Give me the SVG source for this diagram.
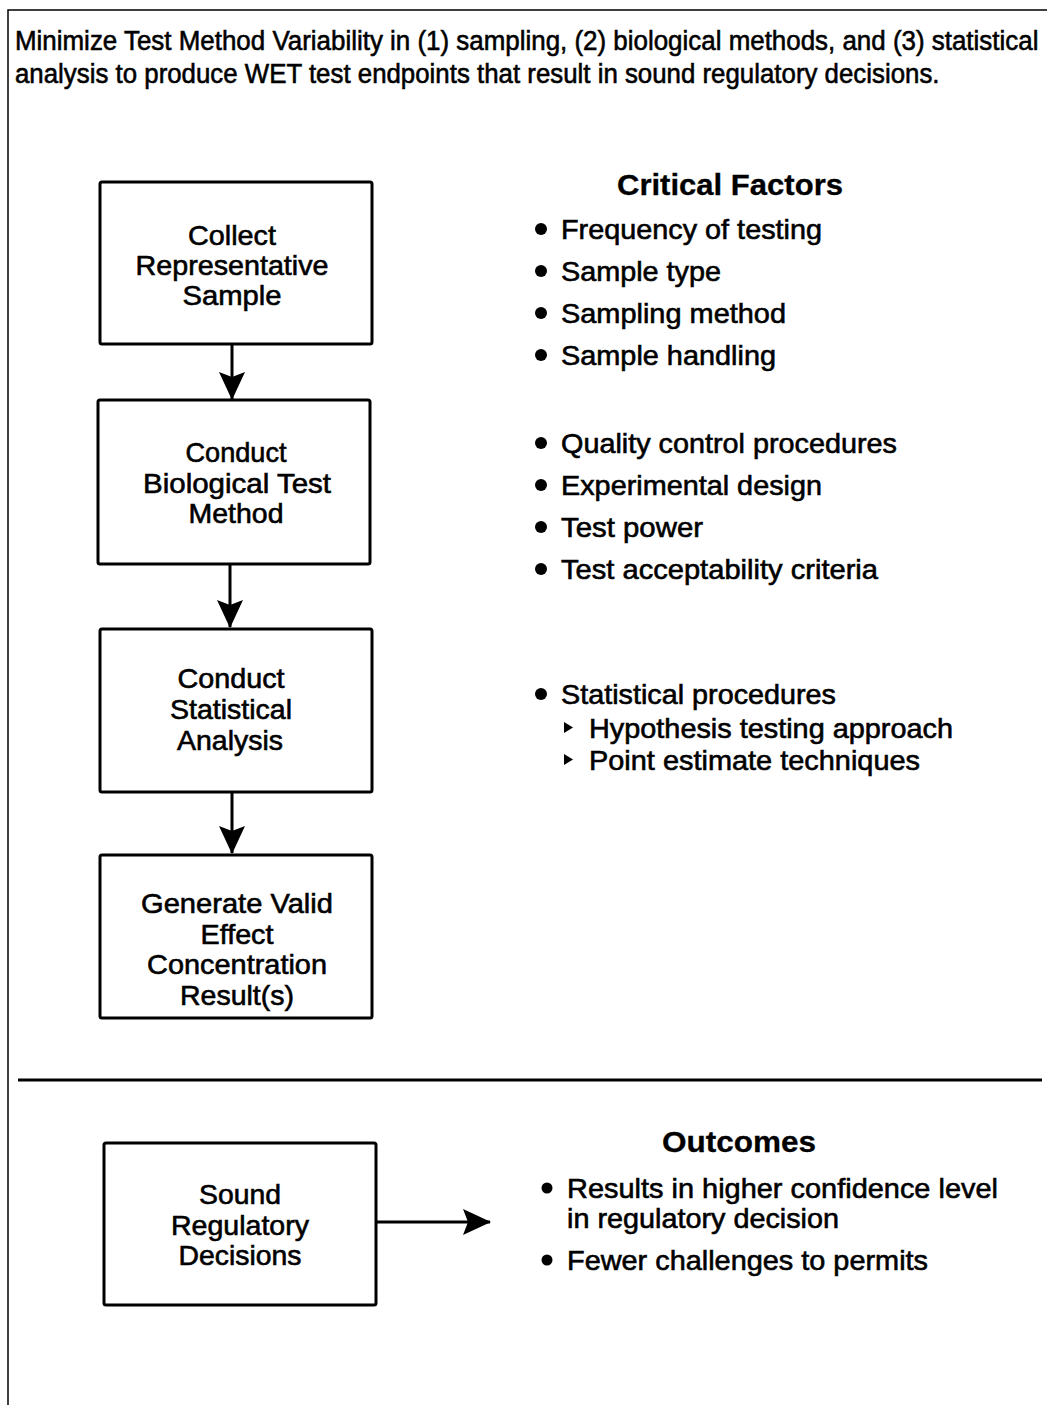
<svg xmlns="http://www.w3.org/2000/svg" width="1047" height="1405" viewBox="0 0 1047 1405">
<style>
text{font-family:"Liberation Sans",Arial,sans-serif;fill:#000;stroke:#000;stroke-width:0.6;}
.t{font-size:28px;}
.c{font-size:28px;text-anchor:middle;}
.h{font-size:29px;font-weight:bold;text-anchor:middle;stroke-width:0.3;}
.box{fill:#fff;stroke:#000;stroke-width:3;}
.ln{stroke:#000;stroke-width:3;fill:none;}
</style>
<defs>
<marker id="ah" viewBox="0 0 28 26" refX="27" refY="13" markerWidth="28" markerHeight="26" markerUnits="userSpaceOnUse" orient="auto">
<path d="M0,0 L28,13 L0,26 L5,13 z" fill="#000"/>
</marker>
</defs>
<rect width="1047" height="1405" fill="#fff"/>
<g id="frame">
<path d="M8,1405 V10 H1047" stroke="#000" stroke-width="1.5" fill="none"/>
<line x1="18" y1="1080" x2="1042" y2="1080" stroke="#000" stroke-width="3"/>
</g>
<g id="title" transform="translate(15,0) scale(0.86,1)">
<text class="t" x="0" y="50" textLength="1190" lengthAdjust="spacingAndGlyphs">Minimize Test Method Variability in (1) sampling, (2) biological methods, and (3) statistical</text>
<text class="t" x="0" y="83" textLength="1075" lengthAdjust="spacingAndGlyphs">analysis to produce WET test endpoints that result in sound regulatory decisions.</text>
</g>
<g id="connectors">
<line class="ln" x1="232" y1="344" x2="232" y2="399" marker-end="url(#ah)"/>
<line class="ln" x1="230" y1="564" x2="230" y2="627" marker-end="url(#ah)"/>
<line class="ln" x1="232" y1="792" x2="232" y2="853" marker-end="url(#ah)"/>
<line class="ln" x1="376" y1="1222" x2="490" y2="1222" marker-end="url(#ah)"/>
</g>
<g id="n1">
<rect class="box" x="100" y="182" width="272" height="162" rx="2"/>
<text class="c" x="232" y="245" textLength="88" lengthAdjust="spacingAndGlyphs">Collect</text>
<text class="c" x="232" y="275" textLength="193" lengthAdjust="spacingAndGlyphs">Representative</text>
<text class="c" x="232" y="305" textLength="99" lengthAdjust="spacingAndGlyphs">Sample</text>
</g>
<g id="n2">
<rect class="box" x="98" y="400" width="272" height="164" rx="2"/>
<text class="c" x="236" y="462" textLength="101" lengthAdjust="spacingAndGlyphs">Conduct</text>
<text class="c" x="237" y="493" textLength="188" lengthAdjust="spacingAndGlyphs">Biological Test</text>
<text class="c" x="236" y="523" textLength="95" lengthAdjust="spacingAndGlyphs">Method</text>
</g>
<g id="n3">
<rect class="box" x="100" y="629" width="272" height="163" rx="2"/>
<text class="c" x="231" y="688" textLength="107" lengthAdjust="spacingAndGlyphs">Conduct</text>
<text class="c" x="231" y="719" textLength="122" lengthAdjust="spacingAndGlyphs">Statistical</text>
<text class="c" x="230" y="750" textLength="106" lengthAdjust="spacingAndGlyphs">Analysis</text>
</g>
<g id="n4">
<rect class="box" x="100" y="855" width="272" height="163" rx="2"/>
<text class="c" x="237" y="913" textLength="192" lengthAdjust="spacingAndGlyphs">Generate Valid</text>
<text class="c" x="237" y="944" textLength="73" lengthAdjust="spacingAndGlyphs">Effect</text>
<text class="c" x="237" y="974" textLength="180" lengthAdjust="spacingAndGlyphs">Concentration</text>
<text class="c" x="237" y="1005" textLength="114" lengthAdjust="spacingAndGlyphs">Result(s)</text>
</g>
<g id="n5">
<rect class="box" x="104" y="1143" width="272" height="162" rx="2"/>
<text class="c" x="240" y="1204" textLength="82" lengthAdjust="spacingAndGlyphs">Sound</text>
<text class="c" x="240" y="1235" textLength="138" lengthAdjust="spacingAndGlyphs">Regulatory</text>
<text class="c" x="240" y="1265" textLength="123" lengthAdjust="spacingAndGlyphs">Decisions</text>
</g>
<g id="critical-factors">
<text class="h" x="730" y="195" textLength="226" lengthAdjust="spacingAndGlyphs">Critical Factors</text>
<circle cx="541" cy="229" r="6"/>
<text class="t" x="561" y="239" textLength="261" lengthAdjust="spacingAndGlyphs">Frequency of testing</text>
<circle cx="541" cy="271" r="6"/>
<text class="t" x="561" y="281" textLength="160" lengthAdjust="spacingAndGlyphs">Sample type</text>
<circle cx="541" cy="313" r="6"/>
<text class="t" x="561" y="323" textLength="225" lengthAdjust="spacingAndGlyphs">Sampling method</text>
<circle cx="541" cy="355" r="6"/>
<text class="t" x="561" y="365" textLength="215" lengthAdjust="spacingAndGlyphs">Sample handling</text>
<circle cx="541" cy="443" r="6"/>
<text class="t" x="561" y="453" textLength="336" lengthAdjust="spacingAndGlyphs">Quality control procedures</text>
<circle cx="541" cy="485" r="6"/>
<text class="t" x="561" y="495" textLength="261" lengthAdjust="spacingAndGlyphs">Experimental design</text>
<circle cx="541" cy="527" r="6"/>
<text class="t" x="561" y="537" textLength="142" lengthAdjust="spacingAndGlyphs">Test power</text>
<circle cx="541" cy="569" r="6"/>
<text class="t" x="561" y="579" textLength="317" lengthAdjust="spacingAndGlyphs">Test acceptability criteria</text>
<circle cx="541" cy="694" r="6"/>
<text class="t" x="561" y="704" textLength="275" lengthAdjust="spacingAndGlyphs">Statistical procedures</text>
<path d="M564,722 L573,727.5 L564,733 z"/>
<text class="t" x="589" y="738" textLength="364" lengthAdjust="spacingAndGlyphs">Hypothesis testing approach</text>
<path d="M564,754 L573,759.5 L564,765 z"/>
<text class="t" x="589" y="770" textLength="331" lengthAdjust="spacingAndGlyphs">Point estimate techniques</text>
</g>
<g id="outcomes">
<text class="h" x="739" y="1152" textLength="154" lengthAdjust="spacingAndGlyphs">Outcomes</text>
<circle cx="547" cy="1188" r="5.5"/>
<text class="t" x="567" y="1198" textLength="431" lengthAdjust="spacingAndGlyphs">Results in higher confidence level</text>
<text class="t" x="567" y="1228" textLength="272" lengthAdjust="spacingAndGlyphs">in regulatory decision</text>
<circle cx="547" cy="1260" r="5.5"/>
<text class="t" x="567" y="1270" textLength="361" lengthAdjust="spacingAndGlyphs">Fewer challenges to permits</text>
</g>
</svg>
